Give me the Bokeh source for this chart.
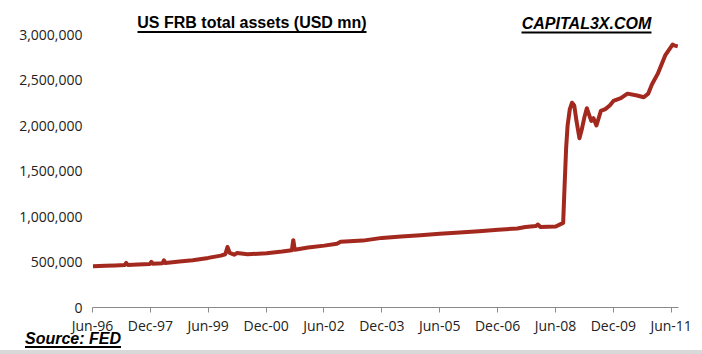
import pandas as pd
from bokeh.plotting import figure
from bokeh.layouts import column
from bokeh.models import (Label, BoxAnnotation, FixedTicker, NumeralTickFormatter,
                          DatetimeTickFormatter, Range1d, ColumnDataSource, Div)
from bokeh.embed import file_html
from bokeh.resources import INLINE

# ---- data, USD mn ----
dates = [
    "1996-06-05", "1996-10-02", "1997-01-01", "1997-04-02", "1997-04-16", "1997-04-30",
    "1997-08-06", "1997-11-26", "1997-12-10", "1997-12-24", "1998-03-25", "1998-04-08",
    "1998-04-22", "1998-09-02", "1999-01-06", "1999-06-02", "1999-09-29", "1999-11-10",
    "1999-12-01", "1999-12-22", "2000-02-02", "2000-03-01", "2000-06-07", "2000-12-06",
    "2001-05-02", "2001-08-01", "2001-08-15", "2001-08-29", "2002-01-02", "2002-06-05",
    "2002-10-02", "2002-11-06", "2003-06-04", "2003-12-03", "2004-06-02", "2004-12-01",
    "2005-06-01", "2005-12-07", "2006-06-07", "2006-12-06", "2007-06-06", "2007-08-22",
    "2007-11-28", "2007-12-19", "2008-01-09", "2008-06-04", "2008-08-13", "2008-08-27",
    "2008-09-10", "2008-09-24", "2008-10-15", "2008-11-05", "2008-11-26", "2008-12-17",
    "2009-01-14", "2009-02-04", "2009-03-04", "2009-03-25", "2009-04-15", "2009-05-06",
    "2009-05-27", "2009-06-24", "2009-07-15", "2009-08-05", "2009-09-16", "2009-10-28",
    "2009-12-02", "2010-02-10", "2010-04-14", "2010-07-14", "2010-09-15", "2010-10-27",
    "2010-12-01", "2011-01-26", "2011-04-06", "2011-06-15", "2011-06-29", "2011-08-03",
]
total_assets = [
    452000, 458000, 462000, 467000, 490000, 468000,
    472000, 478000, 502000, 481000, 487000, 518000,
    490000, 505000, 520000, 545000, 570000, 585000,
    665000, 600000, 580000, 598000, 585000, 595000,
    615000, 630000, 740000, 635000, 660000, 680000,
    700000, 722000, 735000, 765000, 780000, 795000,
    810000, 825000, 838000, 855000, 868000, 885000,
    895000, 912000, 885000, 890000, 930000, 1350000,
    1750000, 2000000, 2180000, 2250000, 2220000, 2050000,
    1860000, 1950000, 2100000, 2190000, 2120000, 2050000,
    2080000, 2000000, 2080000, 2160000, 2180000, 2220000,
    2270000, 2300000, 2350000, 2330000, 2310000, 2350000,
    2450000, 2570000, 2770000, 2890000, 2880000, 2870000,
]
tick_dates = ["1996-06-01", "1997-12-01", "1999-06-01", "2000-12-01", "2002-06-01",
              "2003-12-01", "2005-06-01", "2006-12-01", "2008-06-01", "2009-12-01",
              "2011-06-01"]
y_ticks = [0, 500000, 1000000, 1500000, 2000000, 2500000, 3000000]

title_text = "US FRB total assets (USD mn)"
brand_text = "CAPITAL3X.COM"
source_text = "Source: FED"

src = ColumnDataSource(dict(date=pd.to_datetime(dates), v=total_assets))

# frame spans canvas rows 0..307; 3,000,000 sits 34 px below the top
y_top = 3000000 * 307 / 273

p = figure(width=702, height=334, frame_width=586, frame_height=307,
           output_backend="svg", toolbar_location=None,
           x_axis_type="datetime",
           x_range=Range1d(pd.Timestamp("1996-06-01"), pd.Timestamp("2011-08-10")),
           y_range=Range1d(0, y_top),
           min_border_left=92, min_border_right=24, min_border_top=0, min_border_bottom=27)
p.outline_line_color = None
p.xgrid.visible = False
p.ygrid.visible = False
p.background_fill_color = "white"
p.border_fill_color = "white"

p.line("date", "v", source=src, line_color="#A3291F", line_width=4, line_join="round")

# y axis
p.yaxis.ticker = FixedTicker(ticks=y_ticks)
p.yaxis.formatter = NumeralTickFormatter(format="0,0")
p.yaxis.axis_line_color = None
p.yaxis.major_tick_line_color = None
p.yaxis.major_tick_out = 0
p.yaxis.major_tick_in = 0
p.yaxis.minor_tick_line_color = None
p.yaxis.major_label_standoff = 10
p.yaxis.major_label_text_font = "Open Sans"
p.yaxis.major_label_text_font_size = "14px"
p.yaxis.major_label_text_color = "#222222"

# x axis
tick_ms = [pd.Timestamp(d).value / 1e6 for d in tick_dates]
p.xaxis.ticker = FixedTicker(ticks=tick_ms)
fmt = "%b-%y"
p.xaxis.formatter = DatetimeTickFormatter(years=fmt, months=fmt, days=fmt, hours=fmt,
                                          minutes=fmt, seconds=fmt, milliseconds=fmt,
                                          hourmin=fmt, minsec=fmt, microseconds=fmt)
p.xaxis.axis_line_color = "#8a8a8a"
p.xaxis.major_tick_line_color = "#8a8a8a"
p.xaxis.minor_tick_line_color = None
p.xaxis.major_tick_in = 0
p.xaxis.major_tick_out = 5
p.xaxis.major_label_standoff = 3
p.xaxis.major_label_text_font = "Open Sans"
p.xaxis.major_label_text_font_size = "14px"
p.xaxis.major_label_text_color = "#222222"

# header texts (screen units, relative to the frame's bottom-left corner)
FB = 307  # frame bottom on the canvas
FL = 92   # frame left on the canvas
TEXT_SHIFT = 6  # empirical baseline correction


def sx(cx):
    return cx - FL


def sy(cy):
    return FB - cy


def underline(fig, x0, x1, y0, y1):
    fig.add_layout(BoxAnnotation(left=sx(x0), right=sx(x1), top=sy(y0), bottom=sy(y1),
                                 left_units="screen", right_units="screen",
                                 top_units="screen", bottom_units="screen",
                                 fill_color="black", fill_alpha=1, line_color=None))


p.add_layout(Label(x=sx(251.5), y=sy(28 - TEXT_SHIFT), x_units="screen", y_units="screen",
                   text=title_text, text_align="center", text_baseline="alphabetic",
                   text_font="Liberation Sans", text_font_size="16px",
                   text_font_style="bold", text_color="black"))
underline(p, 137, 366, 30.5, 32.5)
p.add_layout(Label(x=sx(586), y=sy(29 - TEXT_SHIFT), x_units="screen", y_units="screen",
                   text=brand_text, text_align="center", text_baseline="alphabetic",
                   text_font="Liberation Sans", text_font_size="16px",
                   text_font_style="bold italic", text_color="black"))
underline(p, 521, 651, 31, 33)

# footer (source note + grey strip), pulled up 10 px over the main canvas
foot_html = (
    '<div style="position:relative;width:702px;height:30px;">'
    '<span style="position:absolute;left:25px;top:4px;line-height:16px;'
    "font-family:'Liberation Sans',Arial,sans-serif;font-size:16px;font-weight:bold;"
    'font-style:italic;color:black;text-decoration:underline;'
    'text-decoration-thickness:2px;text-underline-offset:2px;white-space:nowrap;">'
    + source_text +
    '</span>'
    '<div style="position:absolute;left:0;top:23px;width:702px;height:7px;'
    'background:#d9d9d9;"></div>'
    '</div>'
)
foot = Div(text=foot_html, width=702, height=30, margin=(-10, 0, 0, 0))

layout = column(p, foot, spacing=0)
open("out.html", "w").write(file_html(layout, INLINE))
